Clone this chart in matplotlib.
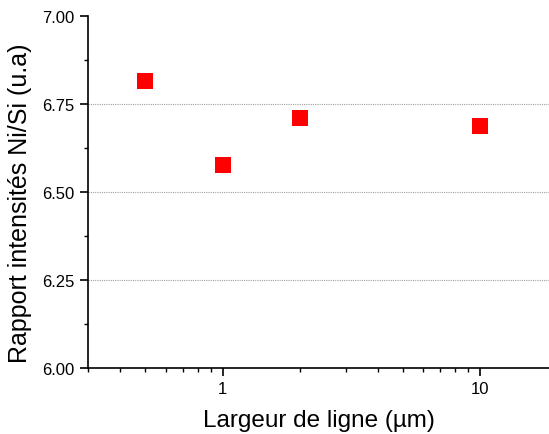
import matplotlib.pyplot as plt
from matplotlib.ticker import FixedLocator, NullFormatter

plt.rcParams['font.family'] = ['Liberation Sans', 'DejaVu Sans']

# data
largeur = [0.5, 1, 2, 10]
rapport = [6.814, 6.577, 6.709, 6.688]

fig = plt.figure(figsize=(5.49, 4.35), dpi=100)
ax = fig.add_axes([0.1603, 0.1517, 0.8397, 0.8093])

ax.plot(largeur, rapport, linestyle='none', marker='s', markersize=11,
        color='#ff0000', markeredgewidth=0)

ax.set_xscale('log')
ax.set_xlim(0.3, 18.5)
ax.set_ylim(6.0, 7.0)

ax.set_xticks([1, 10])
ax.set_xticklabels(['1', '10'])
ax.xaxis.set_minor_locator(FixedLocator([0.3, 0.4, 0.5, 0.6, 0.7, 0.8, 0.9,
                                         2, 3, 4, 5, 6, 7, 8, 9]))
ax.xaxis.set_minor_formatter(NullFormatter())

ax.set_yticks([6.0, 6.25, 6.5, 6.75, 7.0])
ax.set_yticklabels(['6.00', '6.25', '6.50', '6.75', '7.00'])
ax.yaxis.set_minor_locator(FixedLocator([6.125, 6.375, 6.625, 6.875]))

# dotted grid only on the inner y ticks
ax.grid(axis='y', which='major', linestyle=(0, (1, 1)), color='#a0a0a0', linewidth=0.8)
ax.set_axisbelow(True)
yticks = ax.yaxis.get_major_ticks()
yticks[0].gridline.set_visible(False)
yticks[-1].gridline.set_visible(False)

ax.spines['top'].set_visible(False)
ax.spines['right'].set_visible(False)
ax.spines['left'].set_linewidth(1.2)
ax.spines['bottom'].set_linewidth(1.2)

ax.tick_params(which='major', direction='out', length=6, width=1.2, labelsize=12, colors='black')
ax.tick_params(which='minor', direction='out', length=3, width=1.0)

ax.set_xlabel('Largeur de ligne (µm)', fontsize=17.5, labelpad=9)
ax.set_ylabel('Rapport intensités Ni/Si (u.a)', fontsize=18)
ax.yaxis.set_label_coords(-0.122, 0.47)

fig.savefig('out.png', dpi=100)
